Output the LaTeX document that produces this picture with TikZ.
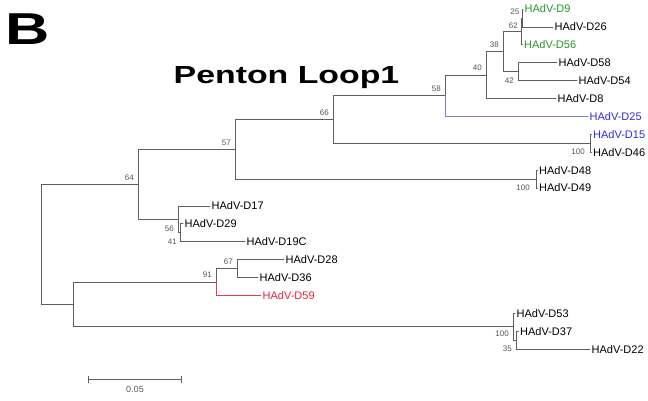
\documentclass[tikz,border=0pt]{standalone}
\usepackage{fontspec}
\setmainfont{Liberation Sans}
\usetikzlibrary{arrows.meta}
\definecolor{treeline}{RGB}{95,95,95}
\definecolor{bootgray}{RGB}{85,85,85}
\definecolor{hadvgreen}{RGB}{40,150,40}
\definecolor{hadvblue}{RGB}{45,45,225}
\definecolor{hadvred}{RGB}{230,35,55}
\definecolor{blueline}{RGB}{125,125,225}
\definecolor{redline}{RGB}{230,60,70}
\begin{document}
\begin{tikzpicture}[x=1pt,y=-1pt,line cap=round,
  branch/.style={draw=treeline,line width=0.8pt},
  taxon/.style={right,inner sep=1.5pt,font=\fontsize{11}{13}\selectfont},
  boot/.style={inner sep=1pt,text=bootgray,font=\fontsize{8}{9}\selectfont}]
\useasboundingbox (0,0) rectangle (648,400);
\node[anchor=base west,inner sep=0pt] (panel) at (5.5,44) {\fontsize{44.7}{45}\selectfont\bfseries\scalebox{1.37}[1]{B}};
\node[anchor=base west,inner sep=0pt] (title) at (173.5,83) {\fontsize{24.7}{25}\selectfont\bfseries\scalebox{1.37}[1]{Penton Loop1}};
\coordinate (root) at (41,244.3);
\coordinate (n64) at (138,184.3);
\coordinate (n57) at (235,149.3);
\coordinate (n66) at (333,119.5);
\coordinate (n58) at (445,95.7);
\coordinate (n40) at (486,75);
\coordinate (n38) at (503,51.5);
\coordinate (n62) at (521,31.4);
\coordinate (n25) at (522.5,17.95);
\coordinate (n42) at (518,71.65);
\coordinate (n100a) at (590,143.25);
\coordinate (n100b) at (536,179.05);
\coordinate (n56) at (178,219.3);
\coordinate (n41) at (180,232.75);
\coordinate (nU) at (73,304.35);
\coordinate (n91) at (216,282);
\coordinate (n67) at (237,268.55);
\coordinate (n100c) at (513,326.7);
\coordinate (n35) at (516,340.15);
\coordinate (D9) at (523,9);
\coordinate (D26) at (553,26.9);
\coordinate (D56) at (522.5,44.8);
\coordinate (D58) at (557,62.7);
\coordinate (D54) at (577,80.6);
\coordinate (D8) at (556,98.5);
\coordinate (D25) at (588,116.4);
\coordinate (D15) at (591.5,134.3);
\coordinate (D46) at (591.5,152.2);
\coordinate (D48) at (537.5,170.1);
\coordinate (D49) at (537.5,188);
\coordinate (D17) at (210,205.9);
\coordinate (D29) at (183,223.8);
\coordinate (D19C) at (245,241.7);
\coordinate (D28) at (284,259.6);
\coordinate (D36) at (258,277.5);
\coordinate (D59) at (261,295.4);
\coordinate (D53) at (515,313.3);
\coordinate (D37) at (518.5,331.2);
\coordinate (D22) at (590,349.1);
\draw[branch] (root) |- (n64);
\draw[branch] (root) |- (nU);
\draw[branch] (n64) |- (n57);
\draw[branch] (n64) |- (n56);
\draw[branch] (n57) |- (n66);
\draw[branch] (n57) |- (n100b);
\draw[branch] (n66) |- (n58);
\draw[branch] (n66) |- (n100a);
\draw[branch] (n58) |- (n40);
\draw[branch,draw=blueline] (n58) |- (D25);
\draw[branch] (n40) |- (n38);
\draw[branch] (n40) |- (D8);
\draw[branch] (n38) |- (n62);
\draw[branch] (n38) |- (n42);
\draw[branch] (n62) |- (n25);
\draw[branch] (n62) |- (D56);
\draw[branch] (n25) |- (D9);
\draw[branch] (n25) |- (D26);
\draw[branch] (n42) |- (D58);
\draw[branch] (n42) |- (D54);
\draw[branch] (n100a) |- (D15);
\draw[branch] (n100a) |- (D46);
\draw[branch] (n100b) |- (D48);
\draw[branch] (n100b) |- (D49);
\draw[branch] (n56) |- (D17);
\draw[branch] (n56) |- (n41);
\draw[branch] (n41) |- (D29);
\draw[branch] (n41) |- (D19C);
\draw[branch] (nU) |- (n91);
\draw[branch] (nU) |- (n100c);
\draw[branch] (n91) |- (n67);
\draw[branch,draw=redline] (n91) |- (D59);
\draw[branch] (n67) |- (D28);
\draw[branch] (n67) |- (D36);
\draw[branch] (n100c) |- (D53);
\draw[branch] (n100c) |- (n35);
\draw[branch] (n35) |- (D37);
\draw[branch] (n35) |- (D22);
\node[taxon,text=hadvgreen] (tD9) at (D9) {HAdV-D9};
\node[taxon] (tD26) at (D26) {HAdV-D26};
\node[taxon,text=hadvgreen] (tD56) at (D56) {HAdV-D56};
\node[taxon] (tD58) at (D58) {HAdV-D58};
\node[taxon] (tD54) at (D54) {HAdV-D54};
\node[taxon] (tD8) at (D8) {HAdV-D8};
\node[taxon,text=hadvblue] (tD25) at (D25) {HAdV-D25};
\node[taxon,text=hadvblue] (tD15) at (D15) {HAdV-D15};
\node[taxon] (tD46) at (D46) {HAdV-D46};
\node[taxon] (tD48) at (D48) {HAdV-D48};
\node[taxon] (tD49) at (D49) {HAdV-D49};
\node[taxon] (tD17) at (D17) {HAdV-D17};
\node[taxon] (tD29) at (D29) {HAdV-D29};
\node[taxon] (tD19C) at (D19C) {HAdV-D19C};
\node[taxon] (tD28) at (D28) {HAdV-D28};
\node[taxon] (tD36) at (D36) {HAdV-D36};
\node[taxon,text=hadvred] (tD59) at (D59) {HAdV-D59};
\node[taxon] (tD53) at (D53) {HAdV-D53};
\node[taxon] (tD37) at (D37) {HAdV-D37};
\node[taxon] (tD22) at (D22) {HAdV-D22};
\node[boot,above left=2pt] (bs25) at (n25) {25};
\node[boot,above left=2pt] (bs62) at (n62) {62};
\node[boot,above left=3pt] (bs38) at (n38) {38};
\node[boot,above left=3pt] (bs40) at (n40) {40};
\node[boot,above left=3pt] (bs58) at (n58) {58};
\node[boot,above left=3pt] (bs66) at (n66) {66};
\node[boot,above left=3pt] (bs57) at (n57) {57};
\node[boot,above left=3pt] (bs64) at (n64) {64};
\node[boot,above left=3pt] (bs91) at (n91) {91};
\node[boot,above left=3pt] (bs67) at (n67) {67};
\node[boot,left=3pt] (bs42) at (n42 |- D54) {42};
\node[boot,left=4pt] (bs100a) at (n100a |- D46) {100};
\node[boot,left=5pt] (bs100b) at (n100b |- D49) {100};
\node[boot,left=3pt,yshift=4pt] (bs56) at (n56 |- n41) {56};
\node[boot,left=2pt] (bs41) at (n41 |- D19C) {41};
\node[boot,left=3pt,yshift=6pt] (bs100c) at (n100c |- n35) {100};
\node[boot,left=3pt] (bs35) at (n35 |- D22) {35};
\coordinate (sbL) at (88,379);
\coordinate (sbR) at (182,379);
\draw[branch,{Bar[width=7pt]}-{Bar[width=7pt]}] (sbL) -- (sbR);
\node[boot,font=\fontsize{9}{10}\selectfont] (sbtext) at (135,389) {0.05};
\end{tikzpicture}
\end{document}
